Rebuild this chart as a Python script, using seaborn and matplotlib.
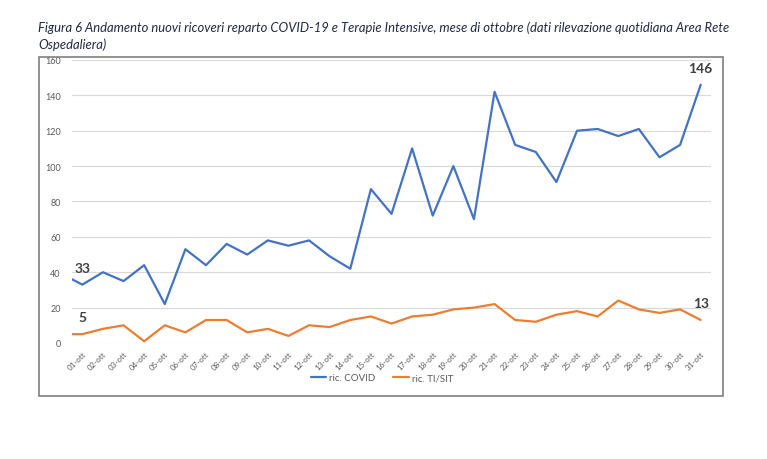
import numpy as np
import pandas as pd
import matplotlib
matplotlib.use("Agg")
import matplotlib.pyplot as plt
from matplotlib.patches import Rectangle
import seaborn as sns

# Dati (primo valore = 30-set, tagliato dal bordo del grafico)
giorni = [f"{d:02d}-ott" for d in range(1, 32)]
ric_covid = [39, 33, 40, 35, 44, 22, 53, 44, 56, 50, 58, 55, 58, 49, 42, 87, 73,
             110, 72, 100, 70, 142, 112, 108, 91, 120, 121, 117, 121, 105, 112, 146]
ric_ti = [5, 5, 8, 10, 1, 10, 6, 13, 13, 6, 8, 4, 10, 9, 13, 15, 11,
          15, 16, 19, 20, 22, 13, 12, 16, 18, 15, 24, 19, 17, 19, 13]
serie = ["ric. COVID", "ric. TI/SIT"]
colori = ["#4472C4", "#ED7D31"]

titolo1 = ("Figura 6 Andamento nuovi ricoveri reparto COVID-19 e Terapie Intensive, "
           "mese di ottobre (dati rilevazione quotidiana Area Rete")
titolo2 = "Ospedaliera)"

pos = np.arange(-1, len(giorni))
df = pd.concat([
    pd.DataFrame({"x": pos, "valore": ric_covid, "serie": serie[0]}),
    pd.DataFrame({"x": pos, "valore": ric_ti, "serie": serie[1]}),
])

sns.set_theme(style="white")
plt.rcParams["font.family"] = ["Lato", "DejaVu Sans"]

fig = plt.figure(figsize=(7.67, 4.60), dpi=100)
ax = fig.add_axes([0.0939, 0.2522, 0.8331, 0.6152])

sns.lineplot(data=df, x="x", y="valore", hue="serie", palette=colori,
             linewidth=1.6, ax=ax, legend=True, sort=False)

ax.set_xlim(-0.5, len(giorni) - 0.5)
ax.set_ylim(0, 160)
ax.set_yticks(range(0, 161, 20))
ax.set_xticks(range(len(giorni)))
ax.set_xticklabels(giorni, rotation=45, ha="right", rotation_mode="anchor",
                   fontsize=5.8, color="#595959")
ax.tick_params(axis="y", labelsize=6.5, labelcolor="#595959", length=0, pad=8)
ax.tick_params(axis="x", length=0, pad=5)
ax.set_xlabel("")
ax.set_ylabel("")
ax.grid(axis="y", color="#D9D9D9", linewidth=0.8)
ax.set_axisbelow(True)
for s in ax.spines.values():
    s.set_visible(False)

# etichette dati (primo e ultimo giorno)
for vals in (ric_covid, ric_ti):
    for i in (0, len(giorni) - 1):
        ax.annotate(str(vals[i + 1]), (i, vals[i + 1]), xytext=(0, 8),
                    textcoords="offset points", ha="center", va="bottom",
                    fontsize=10, fontweight="bold", color="#3F3F3F")

h, l = ax.get_legend_handles_labels()
ax.get_legend().remove()
fig.legend(h, l, loc="center", bbox_to_anchor=(0.498, 1 - 379 / 460), ncol=2,
           frameon=False, fontsize=7, handlelength=1.6, handletextpad=0.3,
           columnspacing=1.8, labelcolor="#595959")

# cornice del grafico
fig.patches.append(Rectangle((39 / 767, 1 - 397 / 460), (723 - 39) / 767, (397 - 58) / 460,
                             transform=fig.transFigure, fill=False,
                             edgecolor="#7F7F7F", linewidth=1.2))

fig.text(38 / 767, 1 - 28 / 460, titolo1, fontsize=9.4, style="italic",
         va="center", ha="left", color="#1F2A44")
fig.text(38 / 767, 1 - 45 / 460, titolo2, fontsize=9.4, style="italic",
         va="center", ha="left", color="#1F2A44")

fig.savefig("out.png", dpi=100)
